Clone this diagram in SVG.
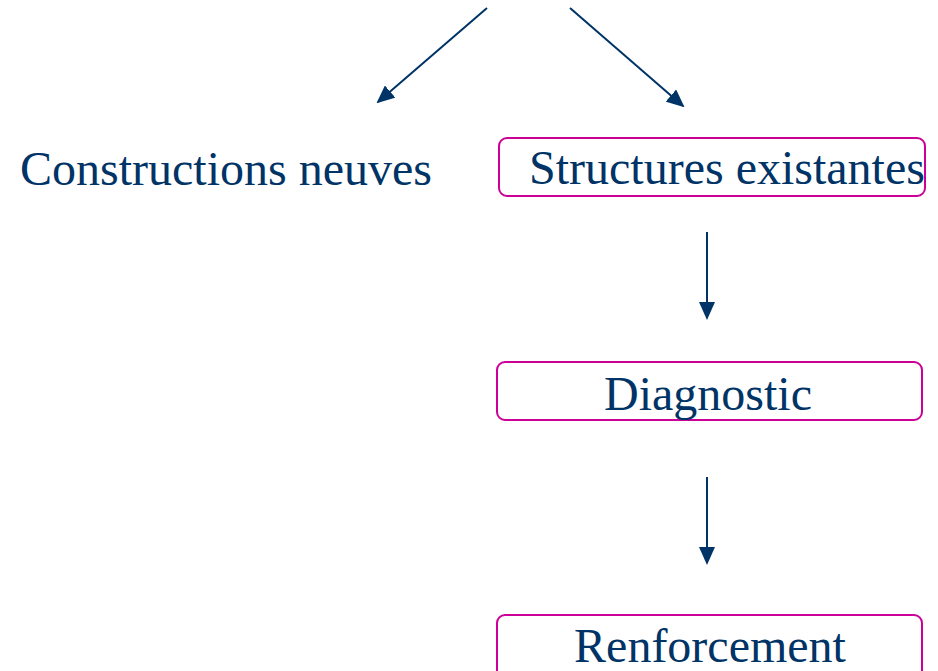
<svg xmlns="http://www.w3.org/2000/svg" width="938" height="671" viewBox="0 0 938 671">
<style>
.t{font-family:"Liberation Serif","Times New Roman",serif;font-size:48px;fill:#003366}
.b{fill:none;stroke:#CC0099;stroke-width:2}
.c{stroke:#003366;stroke-width:2;fill:none}
</style>
<defs>
<marker id="ah" markerWidth="9" markerHeight="8" refX="8" refY="4" orient="auto" markerUnits="strokeWidth">
<path d="M0,0 L9,4 L0,8 Z" fill="#003366"/>
</marker>
</defs>
<rect width="938" height="671" fill="#fff"/>
<g id="connectors">
<line class="c" x1="487" y1="8" x2="378" y2="102" marker-end="url(#ah)"/>
<line class="c" x1="570" y1="8" x2="683" y2="106" marker-end="url(#ah)"/>
<line class="c" x1="707" y1="232" x2="707" y2="318" marker-end="url(#ah)"/>
<line class="c" x1="707" y1="477" x2="707" y2="563" marker-end="url(#ah)"/>
</g>
<g id="constructions">
<text class="t" x="20" y="185">Constructions neuves</text>
</g>
<g id="structures">
<rect class="b" x="499" y="138" width="426" height="58" rx="8"/>
<text class="t" x="529" y="184">Structures existantes</text>
</g>
<g id="diagnostic">
<rect class="b" x="497" y="362" width="425" height="58" rx="8"/>
<text class="t" x="708" y="410" text-anchor="middle">Diagnostic</text>
</g>
<g id="renforcement">
<rect class="b" x="497" y="615" width="425" height="70" rx="8"/>
<text class="t" x="710" y="662" text-anchor="middle">Renforcement</text>
</g>
</svg>
